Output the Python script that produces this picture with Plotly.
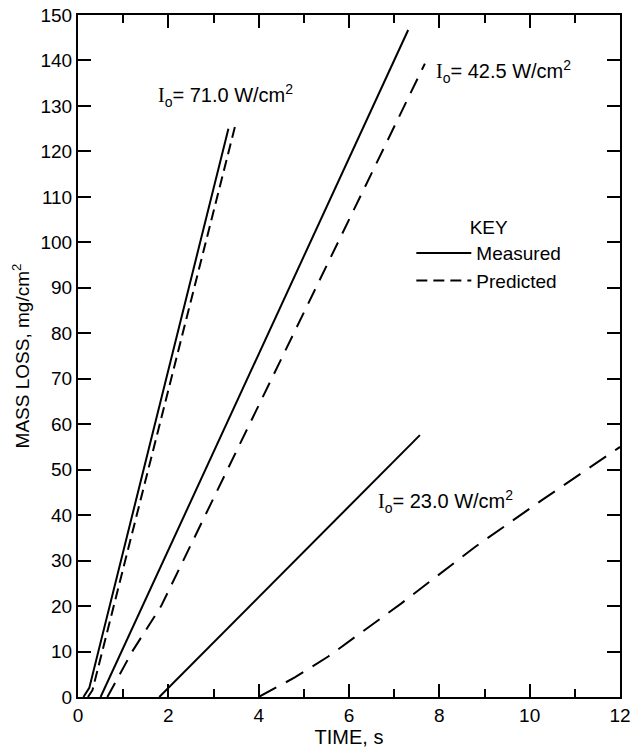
import plotly.graph_objects as go

# ---- data ----
t_m71 = [0.12, 0.25, 3.33]
m_m71 = [0.0, 2.0, 125.0]
t_p71 = [0.22, 0.32, 3.50]
m_p71 = [0.0, 1.5, 126.4]

t_m42 = [0.50, 7.31]
m_m42 = [0.0, 146.7]
t_p42 = [0.65, 1.20, 1.84, 7.68]
m_p42 = [0.0, 10.0, 20.0, 139.3]

t_m23 = [1.80, 7.57]
m_m23 = [0.0, 57.6]
t_p23 = [4.00, 4.80, 5.54, 7.16, 8.79, 10.27, 12.0]
m_p23 = [0.0, 4.3, 8.9, 20.6, 33.0, 43.3, 55.0]

labels = ["71.0", "42.5", "23.0"]
label_x = [1.72, 7.88, 6.6]
label_y = [132.3, 137.6, 43.0]

FONT = "Liberation Sans"

fig = go.Figure()
series = [
    (t_m71, m_m71, "solid", "Measured", True),
    (t_p71, m_p71, "11px,6px", "Predicted", True),
    (t_m42, m_m42, "solid", "Measured", False),
    (t_p42, m_p42, "16px,10px", "Predicted", False),
    (t_m23, m_m23, "solid", "Measured", False),
    (t_p23, m_p23, "20px,11px", "Predicted", False),
]
for x, y, dash, name, show in series:
    fig.add_trace(go.Scatter(x=x, y=y, mode="lines", name=name,
                             legendgroup=name, showlegend=show,
                             line=dict(color="black", width=2, dash=dash)))

for lab, lx, ly in zip(labels, label_x, label_y):
    fig.add_annotation(x=lx, y=ly, xref="x", yref="y", xanchor="left",
                       showarrow=False,
                       text=('<span style="font-family:Liberation Serif">I</span>'
                             f'<sub>o</sub>= {lab} W/cm<sup>2</sup>'),
                       font=dict(family=FONT, size=20, color="black"))

axis_common = dict(showgrid=False, zeroline=False, showline=True, linecolor="black",
                   linewidth=2, mirror="ticks", ticks="inside", tickcolor="black",
                   tickwidth=1.5, automargin=False,
                   tickfont=dict(family=FONT, size=19, color="black"))

fig.update_xaxes(range=[0, 12], dtick=2, tick0=0, ticklen=13,
                 minor=dict(dtick=1, ticks="inside", ticklen=8, tickcolor="black", tickwidth=1.5),
                 title=dict(text="TIME, s", font=dict(family=FONT, size=20, color="black"), standoff=4),
                 **axis_common)
fig.update_yaxes(range=[0, 150], dtick=10, tick0=0, ticklen=13,
                 title=dict(text="MASS LOSS, mg/cm<sup>2</sup>", font=dict(family=FONT, size=19, color="black"), standoff=6),
                 **axis_common)

fig.update_layout(
    width=632, height=750,
    margin=dict(l=78, r=12, t=15, b=53),
    paper_bgcolor="white", plot_bgcolor="white",
    showlegend=True,
    legend=dict(x=0.615, y=0.715, xanchor="left", yanchor="top",
                bgcolor="rgba(0,0,0,0)", borderwidth=0,
                font=dict(family=FONT, size=19, color="black"),
                title=dict(text="KEY", side="top center", font=dict(family=FONT, size=19, color="black")),
                itemwidth=55, tracegroupgap=0),
)

fig.write_html("out.html")
